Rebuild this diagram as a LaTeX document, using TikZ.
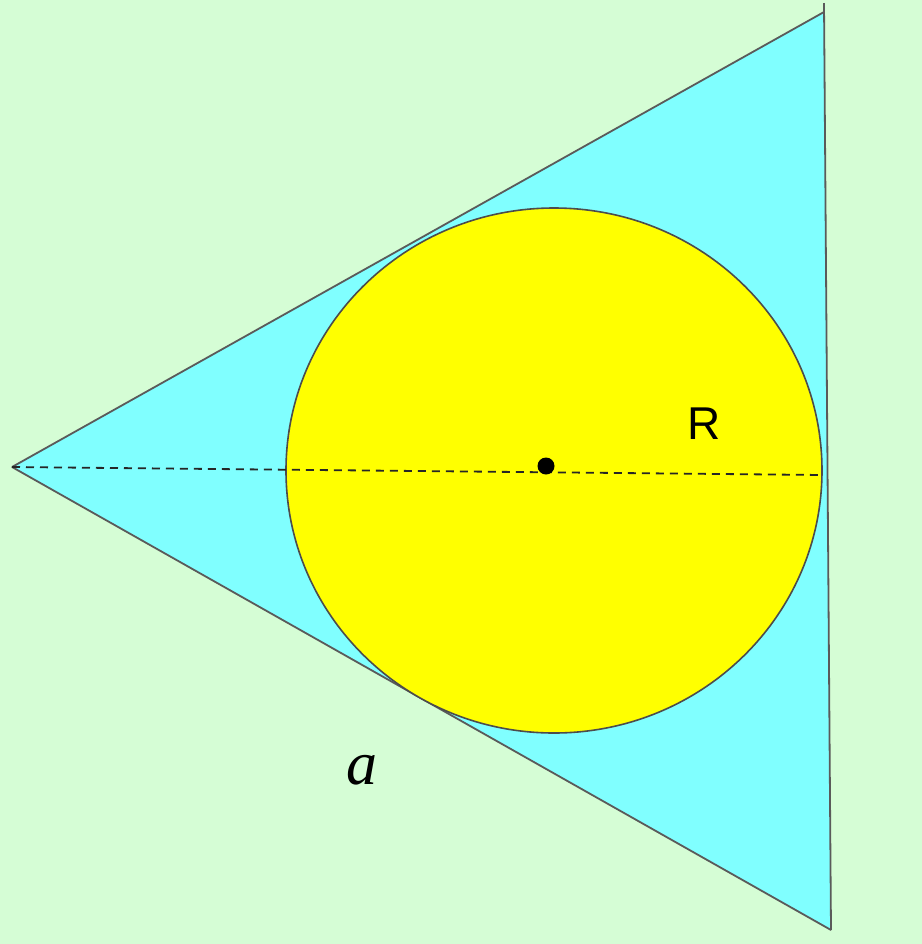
\documentclass[tikz,border=0pt]{standalone}
\usepackage{fontspec}
\newfontfamily\labelsans{Liberation Sans}
\newfontfamily\labelserif{Liberation Serif}
\usepackage{tikz}
\definecolor{bgGreen}{HTML}{D5FDD5}
\definecolor{triCyan}{HTML}{80FFFF}
\definecolor{ballYellow}{HTML}{FFFF00}
\definecolor{edgeGray}{HTML}{5A5A5A}

\begin{document}
\begin{tikzpicture}[x=0.5pt,y=-0.5pt]
        \fill[bgGreen] (0,0) rectangle (922,944);
        \useasboundingbox (0,0) rectangle (922,944);

        \coordinate (L) at (12,467);
        \coordinate (T) at (824,12);
        \coordinate (B) at (831,930);
        \coordinate (Tx) at (824,3);
        \coordinate (M) at (822,475);

        \fill[triCyan] (L) -- (T) -- (B) -- cycle;
        \draw[edgeGray, line width=0.9pt] (L) -- (T);
        \draw[edgeGray, line width=0.9pt] (L) -- (B);
        \draw[edgeGray, line width=0.9pt] (Tx) -- (B);

        \filldraw[fill=ballYellow, draw=black!70, line width=0.8pt]
            (554,470.5) ellipse [x radius=268, y radius=262.5];

        \draw[black!85, line width=0.9pt, dash pattern=on 4pt off 3pt] (L) -- (M);
        \fill (546,466) circle (8.5);

        \node[font=\labelsans\fontsize{23}{23}\selectfont] (lblR) at (704,424) {R};
        \node[font=\labelserif\itshape\fontsize{31}{31}\selectfont] (lblA) at (362,770) {a};
    \end{tikzpicture}
\end{document}
